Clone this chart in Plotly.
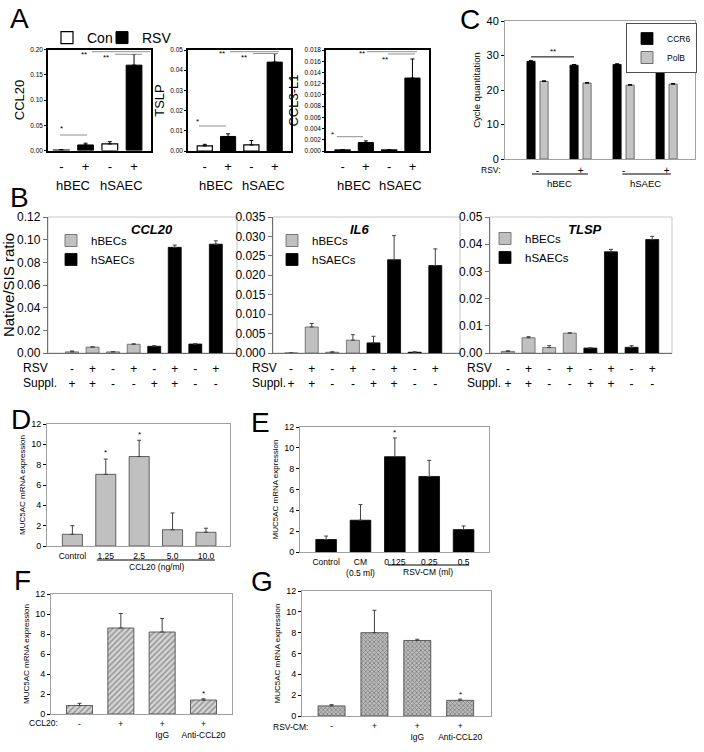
import plotly.graph_objects as go

W, H = 704, 752

# ---------------- data ----------------
A_groups = ["hBEC", "hSAEC"]
A_signs = ["-", "+", "-", "+"]
A_ccl20_con = [0.001, 0.013]
A_ccl20_con_err = [0.0008, 0.0045]
A_ccl20_rsv = [0.011, 0.169]
A_ccl20_rsv_err = [0.0035, 0.021]
A_tslp_con = [0.0025, 0.003]
A_tslp_con_err = [0.0008, 0.0022]
A_tslp_rsv = [0.0072, 0.044]
A_tslp_rsv_err = [0.0013, 0.0042]
A_ccl3_con = [0.0002, 0.0002]
A_ccl3_con_err = [0.00005, 0.00005]
A_ccl3_rsv = [0.0015, 0.013]
A_ccl3_rsv_err = [0.0003, 0.0034]

C_signs = ["-", "+", "-", "+"]
C_ccr6 = [28.3, 27.2, 27.4, 27.4]
C_ccr6_err = [0.2, 0.2, 0.2, 0.2]
C_polb = [22.5, 22.0, 21.4, 21.7]
C_polb_err = [0.15, 0.15, 0.15, 0.15]

B_rsv = ["-", "+", "-", "+", "-", "+", "-", "+"]
B_suppl = ["+", "+", "-", "-", "+", "+", "-", "-"]
B_ccl20 = [0.001, 0.0052, 0.001, 0.0077, 0.0059, 0.0932, 0.0079, 0.096]
B_ccl20_err = [0.0008, 0.0003, 0.0002, 0.0004, 0.0006, 0.002, 0.0003, 0.003]
B_il6 = [0.0, 0.0067, 0.0002, 0.0033, 0.0026, 0.024, 0.0002, 0.0225]
B_il6_err = [0.0, 0.0009, 0.0001, 0.0014, 0.0017, 0.0062, 0.0001, 0.0043]
B_tlsp = [0.0006, 0.0056, 0.002, 0.0073, 0.0018, 0.0372, 0.0021, 0.0417]
B_tlsp_err = [0.0002, 0.0004, 0.0007, 0.0001, 0.0001, 0.0009, 0.0006, 0.0012]

D_labels = ["Control", "1.25", "2.5", "5.0", "10.0"]
D_vals = [1.15, 7.05, 8.8, 1.6, 1.35]
D_err = [0.85, 1.5, 1.6, 1.65, 0.4]

E_labels = ["Control", "CM<br>(0.5 ml)", "0.125", "0.25", "0.5"]
E_vals = [1.2, 3.05, 9.15, 7.25, 2.15]
E_err = [0.33, 1.5, 1.8, 1.55, 0.35]

F_labels = ["-", "+", "+<br>IgG", "+<br>Anti-CCL20"]
F_vals = [0.85, 8.6, 8.2, 1.4]
F_err = [0.22, 1.45, 1.35, 0.12]

G_labels = ["-", "+", "+<br>IgG", "+<br>Anti-CCL20"]
G_vals = [0.97, 8.0, 7.25, 1.5]
G_err = [0.12, 2.15, 0.12, 0.12]

# ---------------- helpers ----------------
FONT = "Liberation Sans, Arial, sans-serif"


def px(x):
    return x / W


def py(y):
    return 1 - y / H


def sid(n):
    return "" if n == 1 else str(n)


fig = go.Figure()
layout = dict(width=W, height=H,
              margin=dict(l=0, r=0, t=0, b=0, pad=0, autoexpand=False),
              paper_bgcolor="white", plot_bgcolor="white", barmode="overlay",
              font=dict(family=FONT, color="black"), showlegend=True)
annotations = []
shapes = []


def add_axes(n, box, xr, yr, xextra, yextra, lc="black", lw=1, mirror=True):
    l, t, r, b = box
    s = sid(n)
    common = dict(showline=True, linecolor=lc, linewidth=lw, mirror=mirror,
                  showgrid=False, zeroline=False, ticks="outside",
                  tickcolor=lc, ticklen=3, fixedrange=True, automargin=False)
    xa = dict(domain=[px(l), px(r)], range=xr, anchor="y" + s, **common)
    xa.update(xextra)
    ya = dict(domain=[py(b), py(t)], range=yr, anchor="x" + s, **common)
    ya.update(yextra)
    layout["xaxis" + s] = xa
    layout["yaxis" + s] = ya


def err(arr, color="black", width=2):
    return dict(type="data", array=arr, arrayminus=[0] * len(arr),
                symmetric=False, color=color, thickness=1, width=width)


def text(x, y, s, size, xref="paper", yref="paper", family=FONT,
         xanchor="center", yanchor="middle", color="black"):
    annotations.append(dict(x=x, y=y, text=s, xref=xref, yref=yref,
                            showarrow=False, xanchor=xanchor, yanchor=yanchor,
                            font=dict(size=size, family=family, color=color)))


def hline(x0, x1, y, color="#909090", width=1, xref="paper", yref="paper"):
    shapes.append(dict(type="line", x0=x0, x1=x1, y0=y, y1=y, xref=xref,
                       yref=yref, line=dict(color=color, width=width)))


# ---------------- Panel A ----------------
A_sets = [
    (1, (48, 49.5, 151, 150.5), [-0.55, 3.7], [0, 0.2], A_ccl20_con, A_ccl20_con_err,
     A_ccl20_rsv, A_ccl20_rsv_err, "CCL20", [0, 0.05, 0.1, 0.15, 0.2], ".2f"),
    (2, (188, 50, 291, 151), [-0.72, 3.7], [0, 0.05], A_tslp_con, A_tslp_con_err,
     A_tslp_rsv, A_tslp_rsv_err, "TSLP", [0, 0.01, 0.02, 0.03, 0.04, 0.05], ".2f"),
    (3, (326, 50, 429, 151), [-0.71, 3.71], [0, 0.018], A_ccl3_con, A_ccl3_con_err,
     A_ccl3_rsv, A_ccl3_rsv_err, "CCL3-L1",
     [0, 0.002, 0.004, 0.006, 0.008, 0.01, 0.012, 0.014, 0.016, 0.018], ".3f"),
]
for k, (n, box, xr, yr, con, con_e, rsv, rsv_e, title, yt, fmt) in enumerate(A_sets):
    s = sid(n)
    fig.add_bar(x=[2 * i for i in range(len(con))], y=con, error_y=err(con_e),
                width=0.65, marker=dict(color="white", line=dict(color="black", width=1.2)),
                name="Con", legend="legend", showlegend=(k == 0), legendgroup="con",
                xaxis="x" + s, yaxis="y" + s)
    fig.add_bar(x=[2 * i + 1 for i in range(len(rsv))], y=rsv, error_y=err(rsv_e),
                width=0.65, marker=dict(color="black", line=dict(color="black", width=1)),
                name="RSV", legend="legend6", showlegend=(k == 0), legendgroup="rsv",
                xaxis="x" + s, yaxis="y" + s)
    add_axes(n, box, xr, yr,
             dict(tickvals=[0, 1, 2, 3], ticktext=A_signs, ticks="",
                  tickfont=dict(size=13), ticklabelstandoff=3),
             dict(tickvals=yt, tickformat=fmt, tickfont=dict(size=6.5), ticklen=2,
                  title=dict(text=title, font=dict(size=13), standoff=3)),
             lc="black", lw=1.6)
    for gi, g in enumerate(A_groups):
        text(2 * gi + 0.5, py(185), g, 13, xref="x" + s)

A_sig = [
    [(60, 87, 135, "*", 61, 128), (92, 150, 51.7, "**", 84, 55), (115, 142, 54.3, "**", 106, 57)],
    [(199, 226, 126, "*", 197, 121.7), (230, 279, 51.7, "**", 222, 54), (253, 278, 53.5, "**", 244, 57.3)],
    [(337, 363, 136.7, "*", 332, 134.3), (367, 417, 51.7, "**", 362, 54), (388, 415, 54, "**", 385, 59.3)],
]
for sigs in A_sig:
    for (x0, x1, yl, st, xs, ys) in sigs:
        hline(px(x0), px(x1), py(yl))
        text(px(xs), py(ys), st, 8)

for lg, x in (("legend", 47), ("legend6", 102)):
    layout[lg] = dict(x=px(x), y=py(22), xanchor="left", yanchor="top",
                      orientation="h", font=dict(size=14),
                      bgcolor="rgba(0,0,0,0)", itemwidth=30)

# ---------------- Panel C ----------------
n = 4
s = sid(n)
cx = list(range(len(C_ccr6)))
fig.add_bar(x=cx, y=C_ccr6, error_y=err(C_ccr6_err, width=2), offset=-0.246, width=0.19,
            marker=dict(color="black", line=dict(color="black", width=0.8)),
            name="CCR6", legend="legend2", xaxis="x" + s, yaxis="y" + s)
fig.add_bar(x=cx, y=C_polb, error_y=err(C_polb_err, width=2), offset=0.056, width=0.19,
            marker=dict(color="#c4c4c4", line=dict(color="#505050", width=0.8)),
            name="PolB", legend="legend2", xaxis="x" + s, yaxis="y" + s)
add_axes(n, (505, 21, 695, 159), [-0.756, 3.66], [0, 40],
         dict(tickvals=cx, ticktext=C_signs, ticks="", tickfont=dict(size=10),
              ticklabelstandoff=2),
         dict(tickvals=[0, 10, 20, 30, 40], tickfont=dict(size=11), ticklen=3,
              tickcolor="black",
              title=dict(text="Cycle quantitation", font=dict(size=9.5), standoff=4)),
         lc="#a0a0a0", lw=1)
text(px(503), py(170), "RSV:", 8.5, xanchor="right")
hline(-0.13, 1.17, py(174), color="black", width=1, xref="x" + s)
hline(1.97, 3.1, py(174), color="black", width=1, xref="x" + s)
text(0.5, py(184), "hBEC", 9.5, xref="x" + s)
text(2.5, py(184), "hSAEC", 9.5, xref="x" + s)
hline(-0.151, 0.849, 29.6, color="black", width=1, xref="x" + s, yref="y" + s)
text(0.35, 31.2, "**", 8, xref="x" + s, yref="y" + s)
layout["legend2"] = dict(x=px(697), y=py(23), xanchor="right", yanchor="top",
                         font=dict(size=8.5), bgcolor="white", bordercolor="#505050",
                         borderwidth=1, itemwidth=30, tracegroupgap=0)

# ---------------- Panel B ----------------
B_sets = [
    (5, (48, 217, 237, 353), [-1.17, 8.03], [0, 0.12], B_ccl20, B_ccl20_err, "CCL20",
     [0, 0.02, 0.04, 0.06, 0.08, 0.1, 0.12], ".2f", "Native/SIS ratio", 152, (51, 226), 21),
    (6, (273, 217, 460, 353), [-0.88, 8.2], [0, 0.035], B_il6, B_il6_err, "IL6",
     [0, 0.005, 0.01, 0.015, 0.02, 0.025, 0.03, 0.035], ".3f", "", 360, (272, 226), 250),
    (7, (490, 217, 672, 353), [-0.87, 7.96], [0, 0.05], B_tlsp, B_tlsp_err, "TLSP",
     [0, 0.01, 0.02, 0.03, 0.04, 0.05], ".2f", "", 585, (485, 224), 465),
]
for k, (n, box, xr, yr, vals, errs, title, yt, fmt, ytitle, tx, lg, labx) in enumerate(B_sets):
    s = sid(n)
    lgname = "legend" + str(3 + k)
    fig.add_bar(x=list(range(4)), y=vals[:4], error_y=err(errs[:4], color="#404040"),
                width=0.63, marker=dict(color="#c0c0c0", line=dict(color="#606060", width=0.8)),
                name="hBECs", legend=lgname, xaxis="x" + s, yaxis="y" + s)
    fig.add_bar(x=list(range(4, 8)), y=vals[4:], error_y=err(errs[4:], color="#404040"),
                width=0.63, marker=dict(color="black", line=dict(color="black", width=0.8)),
                name="hSAECs", legend=lgname, xaxis="x" + s, yaxis="y" + s)
    add_axes(n, box, xr, yr,
             dict(tickvals=list(range(8)),
                  ticktext=[f"{a}<br>{b}" for a, b in zip(B_rsv, B_suppl)],
                  ticks="", tickfont=dict(size=12), ticklabelstandoff=4),
             dict(tickvals=yt, tickformat=fmt, tickfont=dict(size=12), ticklen=4,
                  tickcolor="#707070",
                  title=dict(text=ytitle, font=dict(size=15), standoff=0)),
             lc="#707070", lw=1.3, mirror=False)
    shapes.append(dict(type="rect", xref="x" + s + " domain", yref="y" + s + " domain",
                       x0=0, x1=1, y0=0, y1=1, line=dict(color="#c8c8c8", width=1),
                       layer="below"))
    text(px(tx), py(229), f"<b><i>{title}</i></b>", 13)
    text(px(labx), py(368), "RSV", 12, xanchor="left")
    text(px(labx), py(383), "Suppl.", 12, xanchor="left")
    layout[lgname] = dict(x=px(lg[0]), y=py(lg[1]), xanchor="left", yanchor="top",
                          font=dict(size=11.5), bgcolor="rgba(0,0,0,0)", itemwidth=30,
                          tracegroupgap=0)

# ---------------- Panels D / E / F / G ----------------
MUC = "MUC5AC mRNA expression"
DEFG = [
    (8, (47, 424, 230, 546), [-0.76, 4.72], D_labels, D_vals, D_err,
     dict(color="#c0c0c0", line=dict(color="#404040", width=0.8)), "D"),
    (9, (300, 427, 489, 552), [-0.76, 4.74], E_labels, E_vals, E_err,
     dict(color="black", line=dict(color="black", width=0.8)), "E"),
    (10, (51, 594, 232, 714), [-0.69, 3.69], F_labels, F_vals, F_err,
     dict(color="#d4d4d4", line=dict(color="#404040", width=0.8),
          pattern=dict(shape="/", fgcolor="#4a4a4a", bgcolor="#d4d4d4", size=4, solidity=0.35)), "F"),
    (11, (302, 591, 491, 716), [-0.69, 3.72], G_labels, G_vals, G_err,
     dict(color="#bdbdbd", line=dict(color="#404040", width=0.8),
          pattern=dict(shape="x", fgcolor="#3a3a3a", bgcolor="#bdbdbd", size=3, solidity=0.45)), "G"),
]
for (n, box, xr, labels, vals, errs, marker, nm) in DEFG:
    s = sid(n)
    xs = list(range(len(vals)))
    fig.add_bar(x=xs, y=vals, error_y=err(errs, color="#404040", width=2), width=0.6 if n < 10 else 0.63,
                marker=marker, name=nm, showlegend=False, xaxis="x" + s, yaxis="y" + s)
    add_axes(n, box, xr, [0, 12],
             dict(tickvals=xs, ticktext=labels, ticks="", tickfont=dict(size=8.5),
                  ticklabelstandoff=2),
             dict(tickvals=[0, 2, 4, 6, 8, 10, 12], tickfont=dict(size=9), ticklen=3,
                  tickcolor="black",
                  title=dict(text=MUC, font=dict(size=8), standoff=4)),
             lc="#a0a0a0", lw=1)

# asterisks (significance) placed above error bars
for i in (1, 2):
    text(i, D_vals[i] + D_err[i] + 0.6, "*", 8, xref="x8", yref="y8")
text(2, E_vals[2] + E_err[2] + 0.5, "*", 8, xref="x9", yref="y9")
text(3, F_vals[3] + F_err[3] + 0.5, "*", 8, xref="x10", yref="y10")
text(3, G_vals[3] + G_err[3] + 0.4, "*", 8, xref="x11", yref="y11")

# group underlines / captions
hline(0.73, 4.27, py(560), color="black", width=1, xref="x8")
text(2.53, py(567), "CCL20 (ng/ml)", 8.5, xref="x8")
hline(1.8, 4.16, py(565), color="black", width=1, xref="x9")
text(2.97, py(572), "RSV-CM (ml)", 8.5, xref="x9")
text(px(60), py(723), "CCL20:", 8.5, xanchor="right")
text(px(310), py(727), "RSV-CM:", 8.5, xanchor="right")

# ---------------- panel letters ----------------
for L, x, y in [("A", 8, 19), ("B", 8, 197), ("C", 458, 20), ("D", 9, 420),
                ("E", 249, 422), ("F", 12, 580), ("G", 249, 581)]:
    text(px(x), py(y), L, 28, xanchor="left")

layout["annotations"] = annotations
layout["shapes"] = shapes
fig.update_layout(**layout)
fig.write_html(
    "out.html",
    config={"displayModeBar": False},
    post_script="document.body.style.margin='0';document.body.style.overflow='hidden';",
)
